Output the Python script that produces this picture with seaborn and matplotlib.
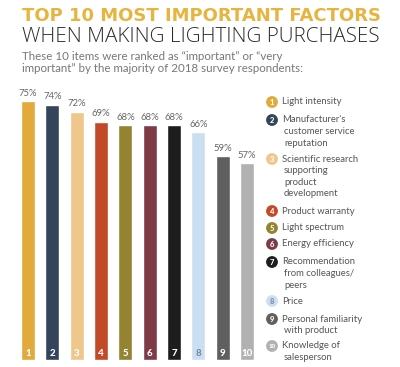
import matplotlib
matplotlib.use("Agg")
import matplotlib.pyplot as plt
from matplotlib.patches import Circle
import seaborn as sns
import pandas as pd

ranks = ["1", "2", "3", "4", "5", "6", "7", "8", "9", "10"]
values = [75, 74, 72, 69, 68, 68, 68, 66, 59, 57]
colors = ["#E2A93B", "#34455B", "#EFC78A", "#C14B29", "#948331",
          "#7E3A46", "#1C1D1C", "#CADFF2", "#5F5F5F", "#B1B1B1"]
num_colors = ["white"] * 7 + ["#7F8C99"] + ["white"] * 2
factors = [
    ["Light intensity"],
    ["Manufacturer's", "customer service", "reputation"],
    ["Scientific research", "supporting", "product", "development"],
    ["Product warranty"],
    ["Light spectrum"],
    ["Energy efficiency"],
    ["Recommendation", "from colleagues/", "peers"],
    ["Price"],
    ["Personal familiarity", "with product"],
    ["Knowledge of", "salesperson"],
]
legend_y = [102, 120, 159, 211, 228, 244, 262, 301, 319, 346]

title1 = "TOP 10 MOST IMPORTANT FACTORS"
title2 = "WHEN MAKING LIGHTING PURCHASES"
subtitle = ["These 10 items were ranked as \u201cimportant\u201d or \u201cvery",
            "important\u201d by the majority of 2018 survey respondents:"]

sns.set_theme(style="white")
plt.rcParams["font.family"] = ["Lato", "DejaVu Sans"]

W, H = 400, 367
fig = plt.figure(figsize=(W / 100, H / 100), dpi=100)

# bar chart
ax = fig.add_axes([21 / W, 7 / H, 233 / W, 276 / H])
df = pd.DataFrame({"rank": ranks, "value": values})
sns.barplot(data=df, x="rank", y="value", hue="rank", palette=colors,
            width=0.58, legend=False, ax=ax, saturation=1)
ax.set_xlim(-0.29, 9.29)
ax.set_ylim(0, 80)
ax.axis("off")
for i, v in enumerate(values):
    ax.text(i, v + 1.0, f"{v}%", ha="center", va="bottom", fontsize=6.8,
            color="#666666")
    ax.text(i, 1.9, ranks[i], ha="center", va="center", fontsize=7,
            fontweight="black", color=num_colors[i])

# overlay in pixel coordinates for titles and legend
ov = fig.add_axes([0, 0, 1, 1])
ov.set_xlim(0, W)
ov.set_ylim(H, 0)
ov.axis("off")

renderer = fig.canvas.get_renderer()


def fit_text(x, y, s, width, size, **kw):
    t = ov.text(x, y, s, fontsize=size, **kw)
    w = t.get_window_extent(renderer).width
    t.set_fontsize(size * width / w)
    return t


fit_text(22, 21, title1, 358, 13, fontweight="bold", color="#E8B440",
         va="baseline", family=["DejaVu Sans"])
fit_text(22, 42, title2, 358, 13, fontweight="light", color="#2B2B2B",
         va="baseline", family=["Open Sans", "Lato"])
fit_text(22, 59.5, subtitle[0], 261, 7, color="#777777", va="baseline")
fit_text(22, 71.5, subtitle[1], 281, 7, color="#777777", va="baseline")

for i, lines in enumerate(factors):
    y = legend_y[i]
    ov.add_patch(Circle((272, y), 5.2, color=colors[i], zorder=3))
    ov.text(272, y + 0.3, ranks[i], ha="center", va="center",
            fontsize=5.5 if i < 9 else 4.4, fontweight="black",
            color=num_colors[i], zorder=4)
    for j, line in enumerate(lines):
        ov.text(282 if j == 0 else 284, y + j * 11.6, line, ha="left",
                va="center", fontsize=6.8, color="#555555")

fig.savefig("out.png", dpi=100)
